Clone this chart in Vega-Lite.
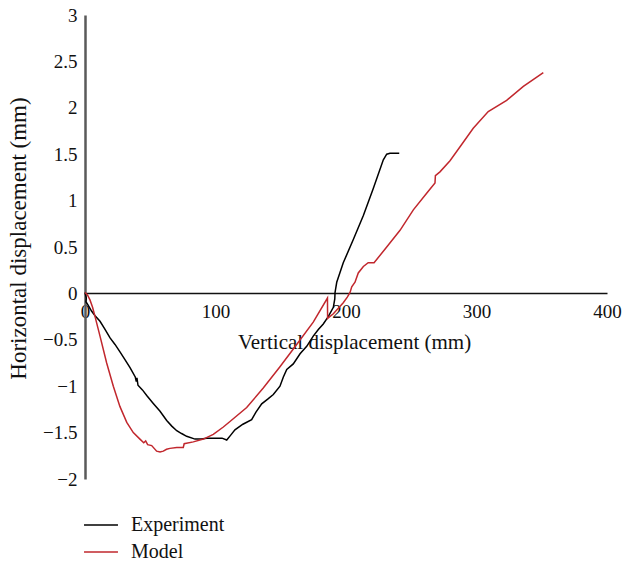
{
  "$schema": "https://vega.github.io/schema/vega-lite/v6.json",
  "autosize": {"type": "none"},
  "width": 522,
  "height": 464,
  "padding": {"left": 85, "top": 15, "right": 16, "bottom": 86},
  "background": "#ffffff",
  "config": {
    "view": {"stroke": null},
    "font": "Liberation Serif",
    "axis": {"grid": false, "ticks": false, "labelFont": "Liberation Serif", "titleFont": "Liberation Serif", "labelColor": "#111111", "titleColor": "#111111", "titleFontWeight": "normal"},
    "legend": {"labelFont": "Liberation Serif"}
  },
  "data": {
    "values": [
      {"series": "Experiment", "i": 0, "v": 0, "h": 0.01},
      {"series": "Experiment", "i": 1, "v": 1.0, "h": -0.05},
      {"series": "Experiment", "i": 2, "v": 0.7, "h": -0.09},
      {"series": "Experiment", "i": 3, "v": 2.5, "h": -0.13},
      {"series": "Experiment", "i": 4, "v": 5.0, "h": -0.19},
      {"series": "Experiment", "i": 5, "v": 7.7, "h": -0.24},
      {"series": "Experiment", "i": 6, "v": 11.5, "h": -0.30},
      {"series": "Experiment", "i": 7, "v": 15.0, "h": -0.38},
      {"series": "Experiment", "i": 8, "v": 19.2, "h": -0.48},
      {"series": "Experiment", "i": 9, "v": 23.0, "h": -0.55},
      {"series": "Experiment", "i": 10, "v": 26.8, "h": -0.63},
      {"series": "Experiment", "i": 11, "v": 30.5, "h": -0.71},
      {"series": "Experiment", "i": 12, "v": 34.5, "h": -0.80},
      {"series": "Experiment", "i": 13, "v": 38.5, "h": -0.90},
      {"series": "Experiment", "i": 14, "v": 39.3, "h": -0.95},
      {"series": "Experiment", "i": 15, "v": 39.8, "h": -0.91},
      {"series": "Experiment", "i": 16, "v": 40.6, "h": -0.99},
      {"series": "Experiment", "i": 17, "v": 44.0, "h": -1.04},
      {"series": "Experiment", "i": 18, "v": 47.3, "h": -1.10},
      {"series": "Experiment", "i": 19, "v": 52.0, "h": -1.18},
      {"series": "Experiment", "i": 20, "v": 57.5, "h": -1.27},
      {"series": "Experiment", "i": 21, "v": 62.6, "h": -1.37},
      {"series": "Experiment", "i": 22, "v": 66.5, "h": -1.43},
      {"series": "Experiment", "i": 23, "v": 70.3, "h": -1.48},
      {"series": "Experiment", "i": 24, "v": 74.0, "h": -1.51},
      {"series": "Experiment", "i": 25, "v": 77.9, "h": -1.54},
      {"series": "Experiment", "i": 26, "v": 84.3, "h": -1.57},
      {"series": "Experiment", "i": 27, "v": 89.0, "h": -1.57},
      {"series": "Experiment", "i": 28, "v": 93.3, "h": -1.56},
      {"series": "Experiment", "i": 29, "v": 97.0, "h": -1.56},
      {"series": "Experiment", "i": 30, "v": 100.9, "h": -1.56},
      {"series": "Experiment", "i": 31, "v": 105.0, "h": -1.56},
      {"series": "Experiment", "i": 32, "v": 108.6, "h": -1.58},
      {"series": "Experiment", "i": 33, "v": 111.5, "h": -1.53},
      {"series": "Experiment", "i": 34, "v": 114.9, "h": -1.47},
      {"series": "Experiment", "i": 35, "v": 121.0, "h": -1.41},
      {"series": "Experiment", "i": 36, "v": 127.7, "h": -1.36},
      {"series": "Experiment", "i": 37, "v": 131.0, "h": -1.28},
      {"series": "Experiment", "i": 38, "v": 135.4, "h": -1.19},
      {"series": "Experiment", "i": 39, "v": 140.0, "h": -1.14},
      {"series": "Experiment", "i": 40, "v": 144.3, "h": -1.09},
      {"series": "Experiment", "i": 41, "v": 149.4, "h": -1.00},
      {"series": "Experiment", "i": 42, "v": 152.0, "h": -0.90},
      {"series": "Experiment", "i": 43, "v": 154.6, "h": -0.82},
      {"series": "Experiment", "i": 44, "v": 159.6, "h": -0.76},
      {"series": "Experiment", "i": 45, "v": 164.8, "h": -0.65},
      {"series": "Experiment", "i": 46, "v": 169.9, "h": -0.57},
      {"series": "Experiment", "i": 47, "v": 174.9, "h": -0.46},
      {"series": "Experiment", "i": 48, "v": 178.8, "h": -0.39},
      {"series": "Experiment", "i": 49, "v": 182.6, "h": -0.33},
      {"series": "Experiment", "i": 50, "v": 186.4, "h": -0.25},
      {"series": "Experiment", "i": 51, "v": 190.3, "h": -0.15},
      {"series": "Experiment", "i": 52, "v": 191.4, "h": -0.06},
      {"series": "Experiment", "i": 53, "v": 191.6, "h": 0.01},
      {"series": "Experiment", "i": 54, "v": 192.9, "h": 0.12},
      {"series": "Experiment", "i": 55, "v": 197.9, "h": 0.33},
      {"series": "Experiment", "i": 56, "v": 205.6, "h": 0.58},
      {"series": "Experiment", "i": 57, "v": 213.3, "h": 0.84},
      {"series": "Experiment", "i": 58, "v": 220.9, "h": 1.13},
      {"series": "Experiment", "i": 59, "v": 228.6, "h": 1.44},
      {"series": "Experiment", "i": 60, "v": 231.2, "h": 1.50},
      {"series": "Experiment", "i": 61, "v": 233.7, "h": 1.51},
      {"series": "Experiment", "i": 62, "v": 240.8, "h": 1.51},

      {"series": "Model", "i": 0, "v": 0, "h": 0.01},
      {"series": "Model", "i": 1, "v": 2.0, "h": -0.02},
      {"series": "Model", "i": 2, "v": 3.8, "h": -0.07},
      {"series": "Model", "i": 3, "v": 5.8, "h": -0.15},
      {"series": "Model", "i": 4, "v": 7.7, "h": -0.25},
      {"series": "Model", "i": 5, "v": 11.5, "h": -0.46},
      {"series": "Model", "i": 6, "v": 16.6, "h": -0.75},
      {"series": "Model", "i": 7, "v": 21.7, "h": -1.00},
      {"series": "Model", "i": 8, "v": 26.8, "h": -1.22},
      {"series": "Model", "i": 9, "v": 32.0, "h": -1.39},
      {"series": "Model", "i": 10, "v": 37.0, "h": -1.50},
      {"series": "Model", "i": 11, "v": 42.1, "h": -1.57},
      {"series": "Model", "i": 12, "v": 45.0, "h": -1.61},
      {"series": "Model", "i": 13, "v": 46.5, "h": -1.59},
      {"series": "Model", "i": 14, "v": 48.0, "h": -1.63},
      {"series": "Model", "i": 15, "v": 51.1, "h": -1.64},
      {"series": "Model", "i": 16, "v": 54.9, "h": -1.70},
      {"series": "Model", "i": 17, "v": 57.5, "h": -1.71},
      {"series": "Model", "i": 18, "v": 60.0, "h": -1.70},
      {"series": "Model", "i": 19, "v": 62.5, "h": -1.68},
      {"series": "Model", "i": 20, "v": 65.1, "h": -1.67},
      {"series": "Model", "i": 21, "v": 70.3, "h": -1.66},
      {"series": "Model", "i": 22, "v": 75.3, "h": -1.66},
      {"series": "Model", "i": 23, "v": 76.0, "h": -1.62},
      {"series": "Model", "i": 24, "v": 83.0, "h": -1.60},
      {"series": "Model", "i": 25, "v": 90.7, "h": -1.57},
      {"series": "Model", "i": 26, "v": 98.3, "h": -1.52},
      {"series": "Model", "i": 27, "v": 106.0, "h": -1.44},
      {"series": "Model", "i": 28, "v": 111.1, "h": -1.38},
      {"series": "Model", "i": 29, "v": 123.9, "h": -1.23},
      {"series": "Model", "i": 30, "v": 136.6, "h": -1.02},
      {"series": "Model", "i": 31, "v": 149.4, "h": -0.79},
      {"series": "Model", "i": 32, "v": 162.2, "h": -0.55},
      {"series": "Model", "i": 33, "v": 174.9, "h": -0.31},
      {"series": "Model", "i": 34, "v": 185.8, "h": -0.05},
      {"series": "Model", "i": 35, "v": 185.9, "h": -0.27},
      {"series": "Model", "i": 36, "v": 190.3, "h": -0.22},
      {"series": "Model", "i": 37, "v": 197.9, "h": -0.10},
      {"series": "Model", "i": 38, "v": 201.0, "h": -0.04},
      {"series": "Model", "i": 39, "v": 203.1, "h": 0.01},
      {"series": "Model", "i": 40, "v": 204.4, "h": 0.07},
      {"series": "Model", "i": 41, "v": 206.9, "h": 0.12},
      {"series": "Model", "i": 42, "v": 209.4, "h": 0.22},
      {"series": "Model", "i": 43, "v": 213.3, "h": 0.29},
      {"series": "Model", "i": 44, "v": 217.0, "h": 0.33},
      {"series": "Model", "i": 45, "v": 221.5, "h": 0.33},
      {"series": "Model", "i": 46, "v": 231.2, "h": 0.50},
      {"series": "Model", "i": 47, "v": 241.4, "h": 0.68},
      {"series": "Model", "i": 48, "v": 251.6, "h": 0.90},
      {"series": "Model", "i": 49, "v": 261.8, "h": 1.08},
      {"series": "Model", "i": 50, "v": 268.2, "h": 1.19},
      {"series": "Model", "i": 51, "v": 268.5, "h": 1.27},
      {"series": "Model", "i": 52, "v": 272.0, "h": 1.31},
      {"series": "Model", "i": 53, "v": 279.7, "h": 1.43},
      {"series": "Model", "i": 54, "v": 287.4, "h": 1.58},
      {"series": "Model", "i": 55, "v": 297.5, "h": 1.78},
      {"series": "Model", "i": 56, "v": 309.0, "h": 1.96},
      {"series": "Model", "i": 57, "v": 323.1, "h": 2.08},
      {"series": "Model", "i": 58, "v": 335.9, "h": 2.23},
      {"series": "Model", "i": 59, "v": 351.2, "h": 2.38}
    ]
  },
  "mark": {"type": "line", "strokeWidth": 1.5, "interpolate": "linear"},
  "encoding": {
    "x": {
      "field": "v",
      "type": "quantitative",
      "scale": {"domain": [0, 400], "nice": false, "zero": false},
      "axis": {
        "title": "Vertical displacement (mm)",
        "values": [0, 100, 200, 300, 400],
        "format": "d",
        "offset": -186,
        "labelFlush": false,
        "labelFont": "Liberation Serif",
        "labelFontSize": 19,
        "labelPadding": 9,
        "domainColor": "#111111",
        "domainWidth": 1.5,
        "titleFont": "Liberation Serif",
        "titleFontSize": 21,
        "titleX": 269,
        "titleY": 49,
        "titleAlign": "center",
        "titleBaseline": "middle"
      }
    },
    "y": {
      "field": "h",
      "type": "quantitative",
      "scale": {"domain": [-2, 3], "nice": false, "zero": false},
      "axis": {
        "title": "Horizontal displacement (mm)",
        "values": [-2, -1.5, -1, -0.5, 0, 0.5, 1, 1.5, 2, 2.5, 3],
        "format": "~g",
        "labelFlush": false,
        "labelFont": "Liberation Serif",
        "labelFontSize": 19,
        "labelPadding": 8,
        "domainColor": "#5a5a5a",
        "domainWidth": 2.5,
        "titleFont": "Liberation Serif",
        "titleFontSize": 23,
        "titleX": -67,
        "titleY": 223,
        "titleAngle": -90,
        "titleAlign": "center",
        "titleBaseline": "middle"
      }
    },
    "color": {
      "field": "series",
      "type": "nominal",
      "scale": {"domain": ["Experiment", "Model"], "range": ["#000000", "#c1272d"]},
      "legend": {
        "title": null,
        "orient": "none",
        "legendX": 6,
        "legendY": 500,
        "padding": 0,
        "symbolType": "M-3,0H3",
        "symbolSize": 128,
        "symbolStrokeWidth": 1.5,
        "labelFont": "Liberation Serif",
        "labelFontSize": 20,
        "labelColor": "#111111",
        "labelOffset": 20,
        "rowPadding": 7
      }
    },
    "order": {"field": "i", "type": "quantitative"}
  }
}
